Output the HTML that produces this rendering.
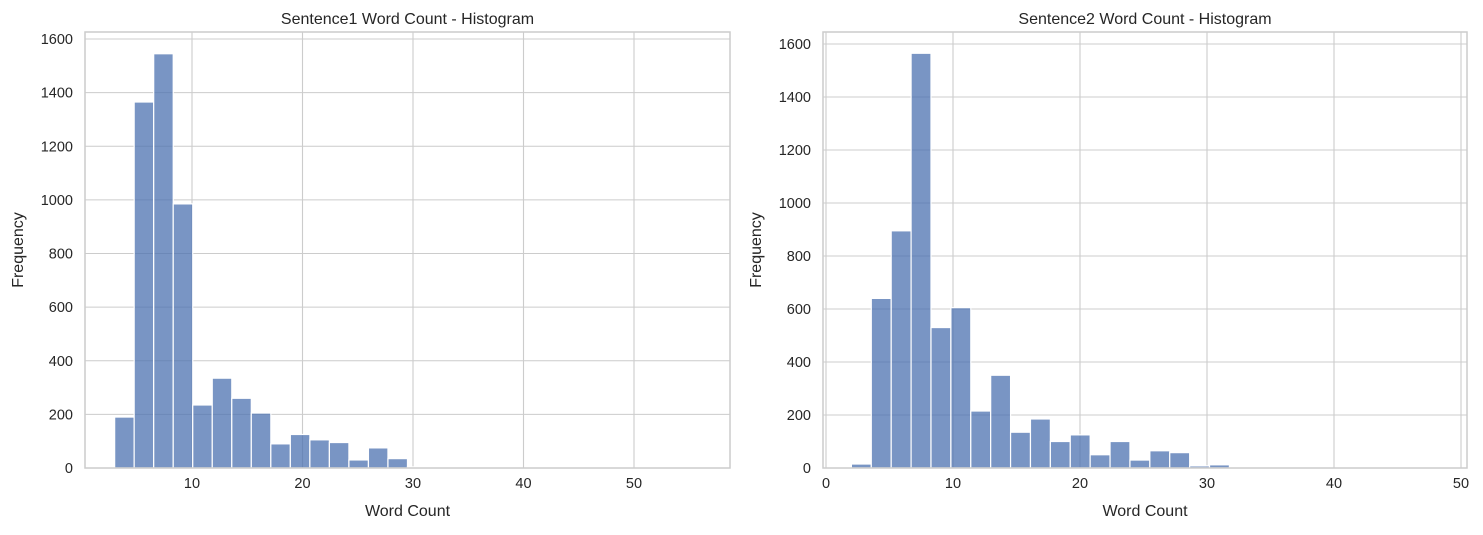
<!DOCTYPE html>
<html><head><meta charset="utf-8"><style>
body{margin:0;background:#fff;font-family:"Liberation Sans","DejaVu Sans",sans-serif}
</style></head><body>
<svg id="c" width="1483" height="530" font-family="Liberation Sans, DejaVu Sans, sans-serif"></svg>
<script>
const s1Counts=[190,1365,1545,985,235,335,260,205,90,125,105,95,30,75,35,4,3,2,1,1,0,0,0,0,0,0,0,0,0,1];
const s2Counts=[15,640,895,1565,530,605,215,350,135,185,100,125,50,100,30,65,58,8,12,3,2,1,1,0,0,0,0,0,0,1];
const s1Range=[3,56];
const s2Range=[2,49];
const yTicks=[0,200,400,600,800,1000,1200,1400,1600];
const s1XTicks=[10,20,30,40,50];
const s2XTicks=[0,10,20,30,40,50];
const svg=document.getElementById('c');
const NS='http://www.w3.org/2000/svg';
function el(t,a,p){const e=document.createElementNS(NS,t);for(const k in a)e.setAttribute(k,a[k]);(p||svg).appendChild(e);return e;}
function panel(cfg){
  const g=el('g',{});
  
  
  const X=v=>cfg.x0+(v-cfg.xmin)*cfg.xs;
  const Y=v=>cfg.y0-v*cfg.ys;
  cfg.xticks.forEach(t=>{
    const l=el('line',{x1:X(t),x2:X(t),y1:cfg.top,y2:cfg.y0,stroke:'#cccccc','stroke-width':1.1},g);
    
    const tx=el('text',{x:X(t),y:cfg.y0+20,'text-anchor':'middle','font-size':14.5,fill:'#262626'},g);tx.textContent=t;
    
  });
  yTicks.forEach(t=>{
    const l=el('line',{x1:cfg.left,x2:cfg.right,y1:Y(t),y2:Y(t),stroke:'#cccccc','stroke-width':1.1},g);
    
    const tx=el('text',{x:cfg.left-12,y:Y(t)+5,'text-anchor':'end','font-size':14.5,fill:'#262626'},g);tx.textContent=t;
    
  });
  const n=cfg.counts.length,bw=(cfg.range[1]-cfg.range[0])/n;
  cfg.counts.forEach((c,i)=>{
    const xa=X(cfg.range[0]+i*bw),xb=X(cfg.range[0]+(i+1)*bw);
    const r=el('rect',{x:xa,y:Y(c),width:xb-xa,height:c*cfg.ys,fill:'rgba(76,114,176,0.75)',stroke:'#fff','stroke-width':1.2},g);
    
  });
  const f=el('rect',{x:cfg.left,y:cfg.top,width:cfg.right-cfg.left,height:cfg.y0-cfg.top,fill:'none',stroke:'#cccccc','stroke-width':1.5},g);
  
  const t=el('text',{x:(cfg.left+cfg.right)/2,y:cfg.top-8,'text-anchor':'middle','font-size':16,fill:'#262626'},g);t.textContent=cfg.title;
  
  const xl=el('text',{x:(cfg.left+cfg.right)/2,y:516,'text-anchor':'middle','font-size':16,fill:'#262626'},g);xl.textContent='Word Count';
  
  const yx=cfg.left-62,yy=(cfg.top+cfg.y0)/2;
  const yl=el('text',{x:yx,y:yy,'text-anchor':'middle','font-size':16,fill:'#262626',transform:`rotate(-90 ${yx} ${yy})`},g);yl.textContent='Frequency';
  
}
panel({name:'sentence1-histogram',title:'Sentence1 Word Count - Histogram',counts:s1Counts,range:s1Range,xticks:s1XTicks,
  left:85,right:730,top:32,y0:468,x0:81.5,xmin:0,xs:11.05,ys:429/1600});
panel({name:'sentence2-histogram',title:'Sentence2 Word Count - Histogram',counts:s2Counts,range:s2Range,xticks:s2XTicks,
  left:823,right:1467,top:32,y0:468,x0:826,xmin:0,xs:12.7,ys:424/1600});
</script>
</body></html>
